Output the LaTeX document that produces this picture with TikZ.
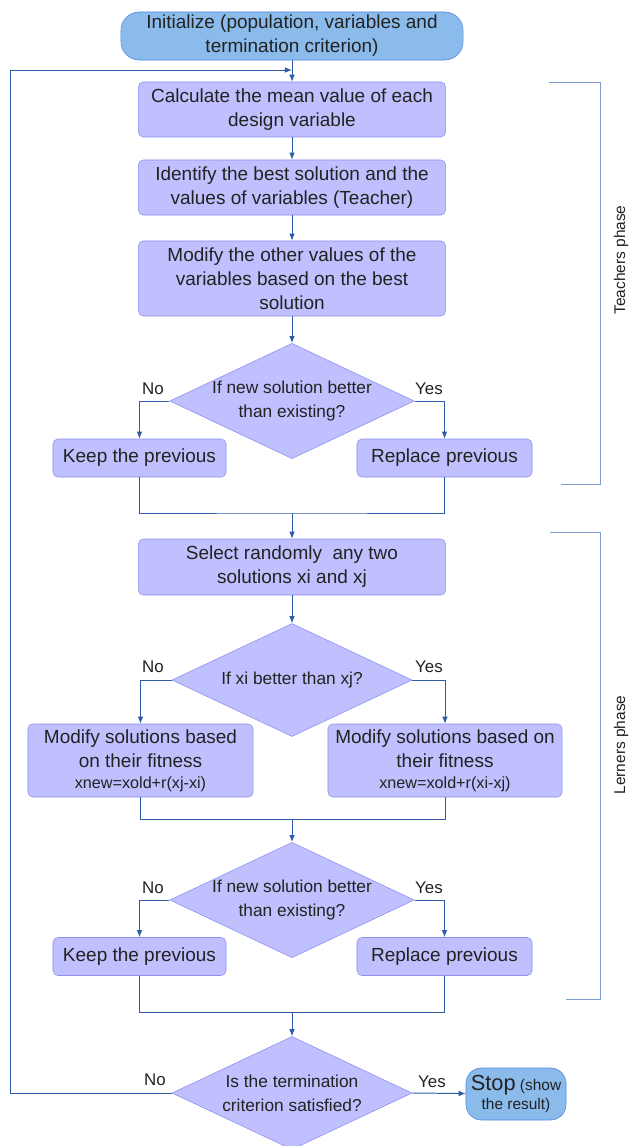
\documentclass[tikz,border=0pt]{standalone}
\usepackage{fontspec}
\setmainfont{Liberation Sans}
\usetikzlibrary{shapes.geometric,arrows.meta}

\definecolor{boxfill}{HTML}{BFC0FD}
\definecolor{boxline}{HTML}{8C8FEF}
\definecolor{termfill}{HTML}{8BBBEB}
\definecolor{termline}{HTML}{4F86E0}
\definecolor{flow}{HTML}{2E5CA6}
\definecolor{phaseline}{HTML}{7E9DD0}
\definecolor{ink}{HTML}{222222}

\tikzset{
  process/.style={draw=boxline, fill=boxfill, rounded corners=3.5pt, align=center,
    text=ink, inner sep=2pt, font=\fontsize{13.5}{17}\selectfont},
  terminal/.style={draw=termline, fill=termfill, rounded corners=13pt, align=center,
    text=ink, inner sep=2pt, font=\fontsize{13.5}{17}\selectfont},
  decision/.style={draw=boxline, fill=boxfill, diamond, aspect=2.12, inner sep=0pt,
    minimum width=6cm, minimum height=2.825cm, align=center, text=ink,
    font=\fontsize{12.3}{17}\selectfont},
  line/.style={draw=flow, line width=0.7pt},
  arrow/.style={line, -{Latex[length=5pt,width=4pt]}},
  lbl/.style={text=ink, font=\fontsize{12}{14}\selectfont, inner sep=0pt},
  phase/.style={text=ink, rotate=90, font=\fontsize{11}{13}\selectfont},
  bracket/.style={draw=phaseline, line width=0.7pt}
}

\begin{document}
\begin{tikzpicture}[x=0.025cm, y=-0.025cm]
    \useasboundingbox (0,0) rectangle (631,1146);

    % teachers phase
    \node[terminal, minimum width=8.55cm, minimum height=1.2cm] (init) at (292,36)
        {Initialize (population, variables and\\termination criterion)};
    \node[process, minimum width=7.675cm, minimum height=1.375cm] (calc) at (292,109.5)
        {Calculate the mean value of each\\design variable};
    \node[process, minimum width=7.675cm, minimum height=1.375cm] (best) at (292,187.5)
        {Identify the best solution and the\\values of variables (Teacher)};
    \node[process, minimum width=7.675cm, minimum height=1.875cm] (modT) at (292,278.5)
        {Modify the other values of the\\variables based on the best\\solution};
    \node[decision] (dec1) at (292,401) {If new solution better\\than existing?};
    \node[process, minimum width=4.325cm, minimum height=0.95cm] (keep1) at (139.5,458)
        {Keep the previous};
    \node[process, minimum width=4.375cm, minimum height=0.95cm] (repl1) at (444.5,458)
        {Replace previous};

    % learners phase
    \node[process, minimum width=7.675cm, minimum height=1.4cm] (sel) at (292,567)
        {Select randomly\ \ any two\\solutions xi and xj};
    \node[decision] (dec2) at (292,680) {If xi better than xj?};
    \node[process, minimum width=5.625cm, minimum height=1.825cm] (modL) at (140.5,760.5)
        {Modify solutions based\\on their fitness\\[-2pt]{\fontsize{11.5}{13}\selectfont xnew=xold+r(xj-xi)}};
    \node[process, minimum width=5.85cm, minimum height=1.825cm] (modR) at (445,760.5)
        {Modify solutions based on\\their fitness\\[-2pt]{\fontsize{11.5}{13}\selectfont xnew=xold+r(xi-xj)}};
    \node[decision] (dec3) at (292,900) {If new solution better\\than existing?};
    \node[process, minimum width=4.325cm, minimum height=0.95cm] (keep2) at (139.5,956.5)
        {Keep the previous};
    \node[process, minimum width=4.375cm, minimum height=0.95cm] (repl2) at (444.5,956.5)
        {Replace previous};

    % termination
    \node[decision] (dec4) at (292,1093) {Is the termination\\criterion satisfied?};
    \node[terminal, minimum width=2.5cm, minimum height=1.3cm, rounded corners=11pt,
          font=\fontsize{11}{14}\selectfont] (stop) at (516,1094)
        {{\fontsize{15.5}{16}\selectfont Stop} (show\\the result)};

    \coordinate (merge1) at (292,513);
    \coordinate (merge2) at (292,819);
    \coordinate (merge3) at (292,1012);
    \coordinate (back) at (10,70);
    \coordinate (entry) at (292,70);

    \draw[arrow] (init) -- (calc);
    \draw[arrow] (calc) -- (best);
    \draw[arrow] (best) -- (modT);
    \draw[arrow] (modT) -- (dec1);
    \draw[arrow] (dec1.west) -| (keep1.north);
    \draw[arrow] (dec1.east) -| (repl1.north);
    \draw[line] (keep1.south) |- (merge1) -| (repl1.south);
    \draw[arrow] (merge1) -- (sel);

    \draw[arrow] (sel) -- (dec2);
    \draw[arrow] (dec2.west) -| (modL.north);
    \draw[arrow] (dec2.east) -| (modR.north);
    \draw[line] (modL.south) |- (merge2) -| (modR.south);
    \draw[arrow] (merge2) -- (dec3);
    \draw[arrow] (dec3.west) -| (keep2.north);
    \draw[arrow] (dec3.east) -| (repl2.north);
    \draw[line] (keep2.south) |- (merge3) -| (repl2.south);
    \draw[arrow] (merge3) -- (dec4);

    \draw[arrow] (dec4.east) -- (stop);
    \draw[arrow] (dec4.west) -| (back) -- (entry);

    \node[lbl] (no1) at (153,389) {No};
    \node[lbl] (yes1) at (429,389) {Yes};
    \node[lbl] (no2) at (153,667) {No};
    \node[lbl] (yes2) at (429,667) {Yes};
    \node[lbl] (no3) at (153,888) {No};
    \node[lbl] (yes3) at (429,888) {Yes};
    \node[lbl] (no4) at (155,1080) {No};
    \node[lbl] (yes4) at (432,1082) {Yes};

    % phase brackets
    \draw[bracket] (549,82) -- (600,82) -- (600,484) -- (561,484);
    \node[phase] (tphase) at (621,260) {Teachers phase};
    \draw[bracket] (550,532) -- (600,532) -- (600,999) -- (566,999);
    \node[phase] (lphase) at (621,745) {Lerners phase};
\end{tikzpicture}
\end{document}
